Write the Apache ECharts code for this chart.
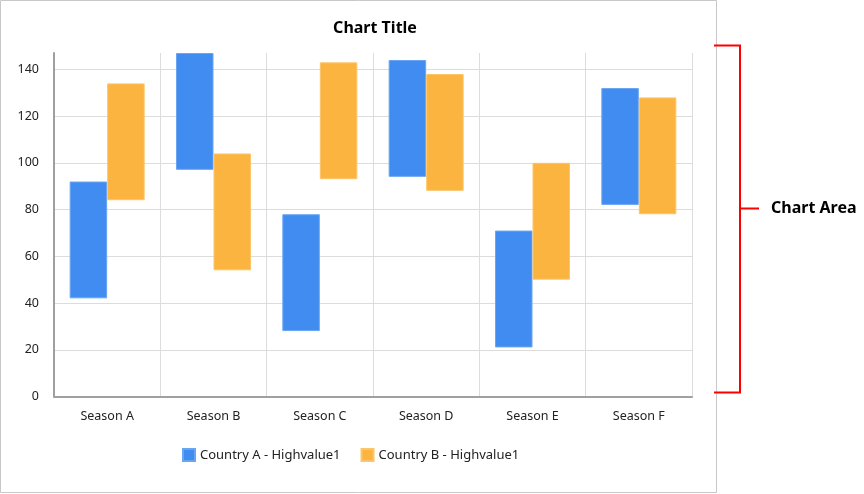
<!DOCTYPE html>
<html>
<head>
<meta charset="utf-8">
<script src="https://cdn.jsdelivr.net/npm/echarts@6/dist/echarts.min.js"></script>
<style>html,body{margin:0;padding:0;background:#fff}#c{width:864px;height:494px}</style>
</head>
<body>
<div id="c"></div>
<script>
const categories = ['Season A', 'Season B', 'Season C', 'Season D', 'Season E', 'Season F'];
const countryALow  = [42, 97, 28, 94, 21, 82];
const countryAHigh = [92, 147, 78, 144, 71, 132];
const countryBLow  = [84, 54, 93, 88, 50, 78];
const countryBHigh = [134, 104, 143, 138, 100, 128];
const seriesNames = ['Country A - Highvalue1', 'Country B - Highvalue1'];

const FONT = '"Noto Sans", "Open Sans", sans-serif';
const chart = echarts.init(document.getElementById('c'), null, {renderer: 'canvas'});

function span(lo, hi) { return hi.map((h, i) => h - lo[i]); }

const option = {
  animation: false,
  textStyle: {fontFamily: FONT},
  title: {
    text: 'Chart Title', left: 370, top: 15, textAlign: 'center',
    textStyle: {fontFamily: FONT, fontSize: 16, fontWeight: 'bold', color: '#000'}
  },
  legend: {
    data: seriesNames, left: 177, top: 443, itemWidth: 12, itemHeight: 12, itemGap: 20,
    icon: 'rect',
    textStyle: {fontFamily: FONT, fontSize: 13, color: '#222'}
  },
  grid: {left: 54, right: 172, top: 53, bottom: 97.5},
  xAxis: {
    type: 'category', data: categories,
    axisLine: {lineStyle: {color: '#a0a0a0', width: 2}},
    axisTick: {show: false},
    axisLabel: {color: '#222', fontSize: 12.5, margin: 13, fontFamily: FONT},
    splitLine: {show: true, lineStyle: {color: '#dcdcdc', width: 1}}
  },
  yAxis: {
    type: 'value', min: 0, max: 147, interval: 20,
    axisLine: {show: true, lineStyle: {color: '#a0a0a0', width: 2}},
    axisTick: {show: false},
    axisLabel: {color: '#222', fontSize: 12.5, margin: 15, showMaxLabel: false, fontFamily: FONT},
    splitLine: {show: true, showMaxLine: false, lineStyle: {color: '#dcdcdc', width: 1}}
  },
  series: [
    {name: 'baseA', type: 'bar', stack: 'A', data: countryALow, itemStyle: {color: 'transparent'},
     barWidth: 37.5, barGap: '0%', silent: true},
    {name: seriesNames[0], type: 'bar', stack: 'A', data: span(countryALow, countryAHigh),
     itemStyle: {color: '#418CF0', borderColor: '#6aa5f3', borderWidth: 1}, barWidth: 37.5, barGap: '0%'},
    {name: 'baseB', type: 'bar', stack: 'B', data: countryBLow, itemStyle: {color: 'transparent'},
     barWidth: 37.5, barGap: '0%', silent: true},
    {name: seriesNames[1], type: 'bar', stack: 'B', data: span(countryBLow, countryBHigh),
     itemStyle: {color: '#FCB441', borderColor: '#fdc56a', borderWidth: 1}, barWidth: 37.5, barGap: '0%'}
  ],
  graphic: [
    {type: 'rect', shape: {x: 0.5, y: 0.5, width: 716, height: 492}, style: {fill: 'none', stroke: '#c8c8c8', lineWidth: 1}, silent: true},
    {type: 'polyline', shape: {points: [[714, 45.5], [740, 45.5], [740, 392.5], [714, 392.5]]}, style: {fill: 'none', stroke: '#ff0000', lineWidth: 2}, silent: true},
    {type: 'line', shape: {x1: 740, y1: 208.5, x2: 759, y2: 208.5}, style: {stroke: '#ff0000', lineWidth: 2}, silent: true},
    {type: 'text', x: 771, y: 208, style: {text: 'Chart Area', fontFamily: FONT, fontSize: 16, fontWeight: 'bold', fill: '#000', verticalAlign: 'middle'}, silent: true}
  ]
};
chart.setOption(option);
</script>
</body>
</html>
